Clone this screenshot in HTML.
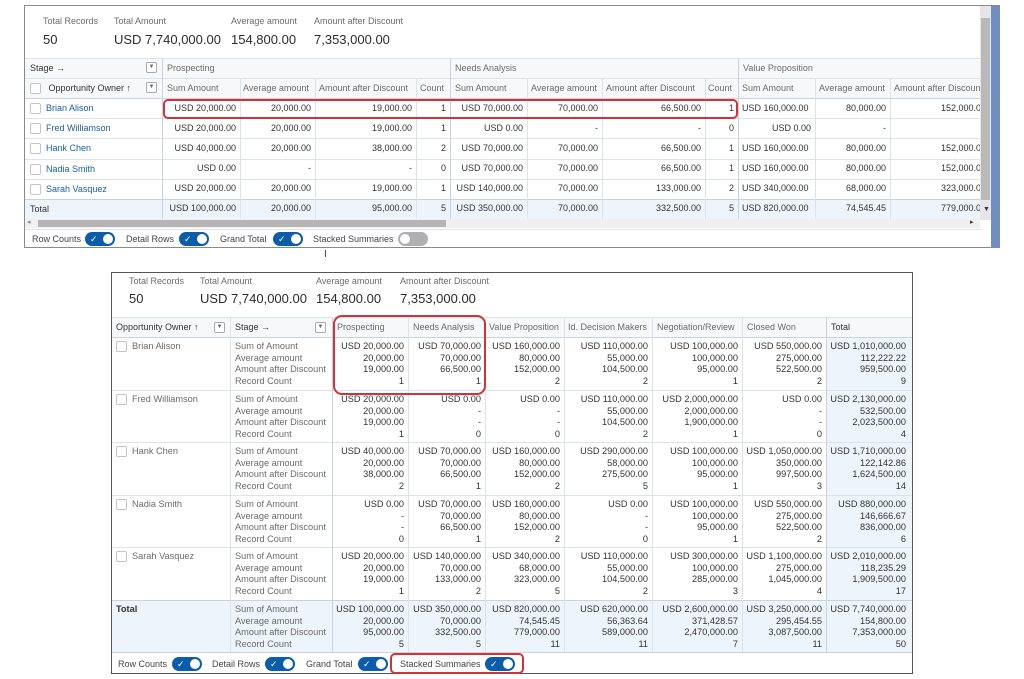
<!DOCTYPE html>
<html><head><meta charset="utf-8">
<style>
*{margin:0;padding:0;box-sizing:border-box}
body{width:1024px;height:679px;background:#fff;position:relative;overflow:hidden;font-family:"Liberation Sans",sans-serif;color:#333}
.a{position:absolute;white-space:nowrap}
.lbl{font-size:9px;color:#6b6b6b}
.val{font-size:13px;color:#2b2b2b}
.t{font-size:9px;line-height:20px;color:#333}
.h{font-size:9px;line-height:20px;color:#6b6b6b}
.r{text-align:right}
.lnk{color:#1a5fa8}
.cb{display:inline-block;width:11px;height:11px;border:1px solid #c4c4c4;border-radius:2px;background:#fff;vertical-align:middle;margin-right:5px}
.dd{position:absolute;width:11px;height:11px;border:1px solid #aaa;border-radius:2px;background:#fff;font-size:6px;line-height:9px;text-align:center;color:#666}
.tog{position:absolute;width:30px;height:14px;border-radius:7px;background:#0b5cab}
.tog::after{content:"";position:absolute;right:2px;top:2px;width:10px;height:10px;border-radius:5px;background:#fff}
.tog::before{content:"✓";position:absolute;left:5px;top:0;font-size:9px;line-height:14px;color:#fff}
.tog.off{background:#b0b0b0}
.tog.off::after{left:2px;right:auto}
.tog.off::before{content:""}
.tg{position:absolute;font-size:9px;color:#444;white-space:nowrap}
.vl{position:absolute;width:1px;background:#dde3ea}
.hl{position:absolute;height:1px;background:#dde3ea}
.g{position:absolute;font-size:9.2px;line-height:11.6px;color:#333;text-align:right;white-space:nowrap}
.gl{position:absolute;font-size:9.2px;line-height:11.6px;color:#6b6b6b;white-space:nowrap}
</style></head><body>

<!-- TOP PANEL -->
<div class="a" style="left:24px;top:5px;width:976px;height:243px;border:1px solid #8a8a8a;background:#fff"></div>
<div class="a" style="left:991px;top:6px;width:8px;height:241px;background:#6d8fc4"></div>
<div class="a" style="left:980px;top:6px;width:11px;height:214px;background:#e6e6e6"></div>
<div class="a" style="left:981px;top:18px;width:9px;height:182px;background:#b9b9b9"></div>
<div class="a lbl" style="left:43px;top:16px">Total Records</div>
<div class="a lbl" style="left:114px;top:16px">Total Amount</div>
<div class="a lbl" style="left:231px;top:16px">Average amount</div>
<div class="a lbl" style="left:314px;top:16px">Amount after Discount</div>
<div class="a val" style="left:43px;top:32px">50</div>
<div class="a val" style="left:114px;top:32px">USD 7,740,000.00</div>
<div class="a val" style="left:231px;top:32px">154,800.00</div>
<div class="a val" style="left:314px;top:32px">7,353,000.00</div>

<div class="a" style="left:25px;top:58px;width:955px;height:40px;background:#f7f8fa"></div>
<div class="a" style="left:25px;top:199px;width:955px;height:20px;background:#eef4fb"></div>
<div class="hl" style="left:25px;top:58px;width:955px"></div>
<div class="hl" style="left:25px;top:78px;width:955px"></div>
<div class="hl" style="left:25px;top:98px;width:955px;background:#c9d3de"></div>
<div class="hl" style="left:25px;top:118px;width:955px"></div>
<div class="hl" style="left:25px;top:138px;width:955px"></div>
<div class="hl" style="left:25px;top:159px;width:955px"></div>
<div class="hl" style="left:25px;top:179px;width:955px"></div>
<div class="hl" style="left:25px;top:199px;width:955px;background:#c9d3de"></div>
<div class="vl" style="left:162px;top:58px;height:161px;background:#c9d3de"></div>
<div class="vl" style="left:450px;top:58px;height:161px;background:#c9d3de"></div>
<div class="vl" style="left:738px;top:58px;height:161px;background:#c9d3de"></div>
<div class="vl" style="left:240px;top:78px;height:141px"></div>
<div class="vl" style="left:315px;top:78px;height:141px"></div>
<div class="vl" style="left:416px;top:78px;height:141px"></div>
<div class="vl" style="left:527px;top:78px;height:141px"></div>
<div class="vl" style="left:602px;top:78px;height:141px"></div>
<div class="vl" style="left:705px;top:78px;height:141px"></div>
<div class="vl" style="left:815px;top:78px;height:141px"></div>
<div class="vl" style="left:890px;top:78px;height:141px"></div>

<div class="a h" style="left:30px;top:58px;color:#333">Stage →</div>
<div class="dd" style="left:146px;top:62px">▼</div>
<div class="a h" style="left:30px;top:78px;color:#333"><span class="cb"></span>&nbsp;Opportunity Owner ↑</div>
<div class="dd" style="left:146px;top:82px">▼</div>
<div class="a h" style="left:167px;top:58px">Prospecting</div>
<div class="a h" style="left:455px;top:58px">Needs Analysis</div>
<div class="a h" style="left:743px;top:58px">Value Proposition</div>
<div class="a h" style="left:167px;top:78px">Sum Amount</div>
<div class="a h" style="left:243px;top:78px">Average amount</div>
<div class="a h" style="left:319px;top:78px">Amount after Discount</div>
<div class="a h" style="left:420px;top:78px">Count</div>
<div class="a h" style="left:455px;top:78px">Sum Amount</div>
<div class="a h" style="left:531px;top:78px">Average amount</div>
<div class="a h" style="left:606px;top:78px">Amount after Discount</div>
<div class="a h" style="left:708px;top:78px">Count</div>
<div class="a h" style="left:742px;top:78px">Sum Amount</div>
<div class="a h" style="left:819px;top:78px">Average amount</div>
<div class="a h" style="left:894px;top:78px;width:86px;overflow:hidden">Amount after Discount</div>

<div class="a t" style="left:30px;top:98px"><span class="cb"></span><span class="lnk">Brian Alison</span></div>
<div class="a t" style="left:30px;top:118px"><span class="cb"></span><span class="lnk">Fred Williamson</span></div>
<div class="a t" style="left:30px;top:138px"><span class="cb"></span><span class="lnk">Hank Chen</span></div>
<div class="a t" style="left:30px;top:159px"><span class="cb"></span><span class="lnk">Nadia Smith</span></div>
<div class="a t" style="left:30px;top:179px"><span class="cb"></span><span class="lnk">Sarah Vasquez</span></div>
<div class="a t" style="left:30px;top:199px">Total</div>

<div class="a t r" style="left:162px;top:98px;width:74px">USD 20,000.00<br>USD 20,000.00<br>USD 40,000.00<br>USD 0.00<br>USD 20,000.00<br>USD 100,000.00</div>
<div class="a t r" style="left:240px;top:98px;width:71px">20,000.00<br>20,000.00<br>20,000.00<br>-<br>20,000.00<br>20,000.00</div>
<div class="a t r" style="left:315px;top:98px;width:97px">19,000.00<br>19,000.00<br>38,000.00<br>-<br>19,000.00<br>95,000.00</div>
<div class="a t r" style="left:416px;top:98px;width:30px">1<br>1<br>2<br>0<br>1<br>5</div>
<div class="a t r" style="left:450px;top:98px;width:73px">USD 70,000.00<br>USD 0.00<br>USD 70,000.00<br>USD 70,000.00<br>USD 140,000.00<br>USD 350,000.00</div>
<div class="a t r" style="left:527px;top:98px;width:71px">70,000.00<br>-<br>70,000.00<br>70,000.00<br>70,000.00<br>70,000.00</div>
<div class="a t r" style="left:602px;top:98px;width:99px">66,500.00<br>-<br>66,500.00<br>66,500.00<br>133,000.00<br>332,500.00</div>
<div class="a t r" style="left:705px;top:98px;width:29px">1<br>0<br>1<br>1<br>2<br>5</div>
<div class="a t" style="left:742px;top:98px">USD 160,000.00<br>&nbsp;<br>USD 160,000.00<br>USD 160,000.00<br>USD 340,000.00<br>USD 820,000.00</div>
<div class="a t r" style="left:738px;top:118px;width:73px">USD 0.00</div>
<div class="a t r" style="left:815px;top:98px;width:71px">80,000.00<br>-<br>80,000.00<br>80,000.00<br>68,000.00<br>74,545.45</div>
<div class="a t r" style="left:890px;top:98px;width:90px;overflow:hidden"><span style="position:relative;left:6px">152,000.00<br>&nbsp;<br>152,000.00<br>152,000.00<br>323,000.00<br>779,000.00</span></div>
<div class="a" style="left:983px;top:206px;font-size:7px;color:#333">▼</div>

<div class="a" style="left:163px;top:99px;width:575px;height:20px;border:2px solid #d0343a;border-radius:5px"></div>

<div class="a" style="left:25px;top:219px;width:955px;height:9px;background:#f0f0f0"></div>
<div class="a" style="left:38px;top:220px;width:408px;height:7px;background:#b5b5b5"></div>
<div class="a" style="left:27px;top:218px;font-size:7px;color:#888">◂</div>
<div class="a" style="left:970px;top:218px;font-size:7px;color:#333">▸</div>
<div class="hl" style="left:25px;top:229px;width:955px"></div>
<div class="tg" style="left:32px;top:234px">Row Counts</div><div class="tog" style="left:85px;top:232px"></div>
<div class="tg" style="left:126px;top:234px">Detail Rows</div><div class="tog" style="left:179px;top:232px"></div>
<div class="tg" style="left:220px;top:234px">Grand Total</div><div class="tog" style="left:273px;top:232px"></div>
<div class="tg" style="left:313px;top:234px">Stacked Summaries</div><div class="tog off" style="left:398px;top:232px"></div>
<div class="a" style="left:324px;top:249px;font-size:10px;color:#333">I</div>

<!-- BOTTOM PANEL -->
<div class="a" style="left:111px;top:272px;width:802px;height:402px;border:1px solid #555;background:#fff"></div>
<div class="a lbl" style="left:129px;top:276px">Total Records</div>
<div class="a lbl" style="left:200px;top:276px">Total Amount</div>
<div class="a lbl" style="left:316px;top:276px">Average amount</div>
<div class="a lbl" style="left:400px;top:276px">Amount after Discount</div>
<div class="a val" style="left:129px;top:291px">50</div>
<div class="a val" style="left:200px;top:291px">USD 7,740,000.00</div>
<div class="a val" style="left:316px;top:291px">154,800.00</div>
<div class="a val" style="left:400px;top:291px">7,353,000.00</div>

<div class="a" style="left:112px;top:317px;width:800px;height:20px;background:#f7f8fa"></div>
<div class="a" style="left:826px;top:337px;width:86px;height:263px;background:#eef4fb"></div>
<div class="a" style="left:112px;top:600px;width:800px;height:52px;background:#eef4fb"></div>
<div class="hl" style="left:112px;top:317px;width:800px"></div>
<div class="hl" style="left:112px;top:337px;width:800px;background:#c9d3de"></div>
<div class="hl" style="left:112px;top:390px;width:800px"></div>
<div class="hl" style="left:112px;top:442px;width:800px"></div>
<div class="hl" style="left:112px;top:495px;width:800px"></div>
<div class="hl" style="left:112px;top:547px;width:800px"></div>
<div class="hl" style="left:112px;top:600px;width:800px;background:#c9d3de"></div>
<div class="hl" style="left:112px;top:652px;width:800px;background:#c9d3de"></div>
<div class="vl" style="left:230px;top:317px;height:335px"></div>
<div class="vl" style="left:332px;top:317px;height:335px;background:#c9d3de"></div>
<div class="vl" style="left:408px;top:317px;height:335px"></div>
<div class="vl" style="left:485px;top:317px;height:335px"></div>
<div class="vl" style="left:564px;top:317px;height:335px"></div>
<div class="vl" style="left:652px;top:317px;height:335px"></div>
<div class="vl" style="left:742px;top:317px;height:335px"></div>
<div class="vl" style="left:826px;top:317px;height:335px;background:#c9d3de"></div>

<div class="a h" style="left:116px;top:317px;color:#333">Opportunity Owner ↑</div>
<div class="dd" style="left:214px;top:322px">▼</div>
<div class="a h" style="left:235px;top:317px;color:#333">Stage →</div>
<div class="dd" style="left:315px;top:322px">▼</div>
<div class="a h" style="left:337px;top:317px">Prospecting</div>
<div class="a h" style="left:413px;top:317px">Needs Analysis</div>
<div class="a h" style="left:489px;top:317px">Value Proposition</div>
<div class="a h" style="left:568px;top:317px">Id. Decision Makers</div>
<div class="a h" style="left:657px;top:317px">Negotiation/Review</div>
<div class="a h" style="left:747px;top:317px">Closed Won</div>
<div class="a h" style="left:831px;top:317px;color:#333">Total</div>

<div class="a" style="left:116px;top:341px;font-size:9.2px;color:#6b6b6b"><span class="cb"></span>Brian Alison</div>
<div class="a" style="left:116px;top:394px;font-size:9.2px;color:#6b6b6b"><span class="cb"></span>Fred Williamson</div>
<div class="a" style="left:116px;top:446px;font-size:9.2px;color:#6b6b6b"><span class="cb"></span>Hank Chen</div>
<div class="a" style="left:116px;top:499px;font-size:9.2px;color:#6b6b6b"><span class="cb"></span>Nadia Smith</div>
<div class="a" style="left:116px;top:551px;font-size:9.2px;color:#6b6b6b"><span class="cb"></span>Sarah Vasquez</div>
<div class="a" style="left:116px;top:604px;font-size:9.2px;color:#333;font-weight:bold">Total</div>

<div class="gl" style="left:235px;top:341px">Sum of Amount<br>Average amount<br>Amount after Discount<br>Record Count</div>
<div class="gl" style="left:235px;top:394px">Sum of Amount<br>Average amount<br>Amount after Discount<br>Record Count</div>
<div class="gl" style="left:235px;top:446px">Sum of Amount<br>Average amount<br>Amount after Discount<br>Record Count</div>
<div class="gl" style="left:235px;top:499px">Sum of Amount<br>Average amount<br>Amount after Discount<br>Record Count</div>
<div class="gl" style="left:235px;top:551px">Sum of Amount<br>Average amount<br>Amount after Discount<br>Record Count</div>
<div class="gl" style="left:235px;top:604px">Sum of Amount<br>Average amount<br>Amount after Discount<br>Record Count</div>

<div class="g" style="right:620px;top:341px">USD 20,000.00<br>20,000.00<br>19,000.00<br>1</div>
<div class="g" style="right:543px;top:341px">USD 70,000.00<br>70,000.00<br>66,500.00<br>1</div>
<div class="g" style="right:464px;top:341px">USD 160,000.00<br>80,000.00<br>152,000.00<br>2</div>
<div class="g" style="right:376px;top:341px">USD 110,000.00<br>55,000.00<br>104,500.00<br>2</div>
<div class="g" style="right:286px;top:341px">USD 100,000.00<br>100,000.00<br>95,000.00<br>1</div>
<div class="g" style="right:202px;top:341px">USD 550,000.00<br>275,000.00<br>522,500.00<br>2</div>
<div class="g" style="right:118px;top:341px">USD 1,010,000.00<br>112,222.22<br>959,500.00<br>9</div>

<div class="g" style="right:620px;top:394px">USD 20,000.00<br>20,000.00<br>19,000.00<br>1</div>
<div class="g" style="right:543px;top:394px">USD 0.00<br>-<br>-<br>0</div>
<div class="g" style="right:464px;top:394px">USD 0.00<br>-<br>-<br>0</div>
<div class="g" style="right:376px;top:394px">USD 110,000.00<br>55,000.00<br>104,500.00<br>2</div>
<div class="g" style="right:286px;top:394px">USD 2,000,000.00<br>2,000,000.00<br>1,900,000.00<br>1</div>
<div class="g" style="right:202px;top:394px">USD 0.00<br>-<br>-<br>0</div>
<div class="g" style="right:118px;top:394px">USD 2,130,000.00<br>532,500.00<br>2,023,500.00<br>4</div>

<div class="g" style="right:620px;top:446px">USD 40,000.00<br>20,000.00<br>38,000.00<br>2</div>
<div class="g" style="right:543px;top:446px">USD 70,000.00<br>70,000.00<br>66,500.00<br>1</div>
<div class="g" style="right:464px;top:446px">USD 160,000.00<br>80,000.00<br>152,000.00<br>2</div>
<div class="g" style="right:376px;top:446px">USD 290,000.00<br>58,000.00<br>275,500.00<br>5</div>
<div class="g" style="right:286px;top:446px">USD 100,000.00<br>100,000.00<br>95,000.00<br>1</div>
<div class="g" style="right:202px;top:446px">USD 1,050,000.00<br>350,000.00<br>997,500.00<br>3</div>
<div class="g" style="right:118px;top:446px">USD 1,710,000.00<br>122,142.86<br>1,624,500.00<br>14</div>

<div class="g" style="right:620px;top:499px">USD 0.00<br>-<br>-<br>0</div>
<div class="g" style="right:543px;top:499px">USD 70,000.00<br>70,000.00<br>66,500.00<br>1</div>
<div class="g" style="right:464px;top:499px">USD 160,000.00<br>80,000.00<br>152,000.00<br>2</div>
<div class="g" style="right:376px;top:499px">USD 0.00<br>-<br>-<br>0</div>
<div class="g" style="right:286px;top:499px">USD 100,000.00<br>100,000.00<br>95,000.00<br>1</div>
<div class="g" style="right:202px;top:499px">USD 550,000.00<br>275,000.00<br>522,500.00<br>2</div>
<div class="g" style="right:118px;top:499px">USD 880,000.00<br>146,666.67<br>836,000.00<br>6</div>

<div class="g" style="right:620px;top:551px">USD 20,000.00<br>20,000.00<br>19,000.00<br>1</div>
<div class="g" style="right:543px;top:551px">USD 140,000.00<br>70,000.00<br>133,000.00<br>2</div>
<div class="g" style="right:464px;top:551px">USD 340,000.00<br>68,000.00<br>323,000.00<br>5</div>
<div class="g" style="right:376px;top:551px">USD 110,000.00<br>55,000.00<br>104,500.00<br>2</div>
<div class="g" style="right:286px;top:551px">USD 300,000.00<br>100,000.00<br>285,000.00<br>3</div>
<div class="g" style="right:202px;top:551px">USD 1,100,000.00<br>275,000.00<br>1,045,000.00<br>4</div>
<div class="g" style="right:118px;top:551px">USD 2,010,000.00<br>118,235.29<br>1,909,500.00<br>17</div>

<div class="g" style="right:620px;top:604px">USD 100,000.00<br>20,000.00<br>95,000.00<br>5</div>
<div class="g" style="right:543px;top:604px">USD 350,000.00<br>70,000.00<br>332,500.00<br>5</div>
<div class="g" style="right:464px;top:604px">USD 820,000.00<br>74,545.45<br>779,000.00<br>11</div>
<div class="g" style="right:376px;top:604px">USD 620,000.00<br>56,363.64<br>589,000.00<br>11</div>
<div class="g" style="right:286px;top:604px">USD 2,600,000.00<br>371,428.57<br>2,470,000.00<br>7</div>
<div class="g" style="right:202px;top:604px">USD 3,250,000.00<br>295,454.55<br>3,087,500.00<br>11</div>
<div class="g" style="right:118px;top:604px">USD 7,740,000.00<br>154,800.00<br>7,353,000.00<br>50</div>

<div class="a" style="left:333px;top:315px;width:153px;height:80px;border:2px solid #d0343a;border-radius:9px"></div>

<div class="tg" style="left:118px;top:659px">Row Counts</div><div class="tog" style="left:172px;top:657px"></div>
<div class="tg" style="left:212px;top:659px">Detail Rows</div><div class="tog" style="left:265px;top:657px"></div>
<div class="tg" style="left:306px;top:659px">Grand Total</div><div class="tog" style="left:358px;top:657px"></div>
<div class="tg" style="left:400px;top:659px">Stacked Summaries</div><div class="tog" style="left:485px;top:657px"></div>
<div class="a" style="left:390px;top:653px;width:134px;height:21px;border:2px solid #d0343a;border-radius:5px"></div>
</body></html>
